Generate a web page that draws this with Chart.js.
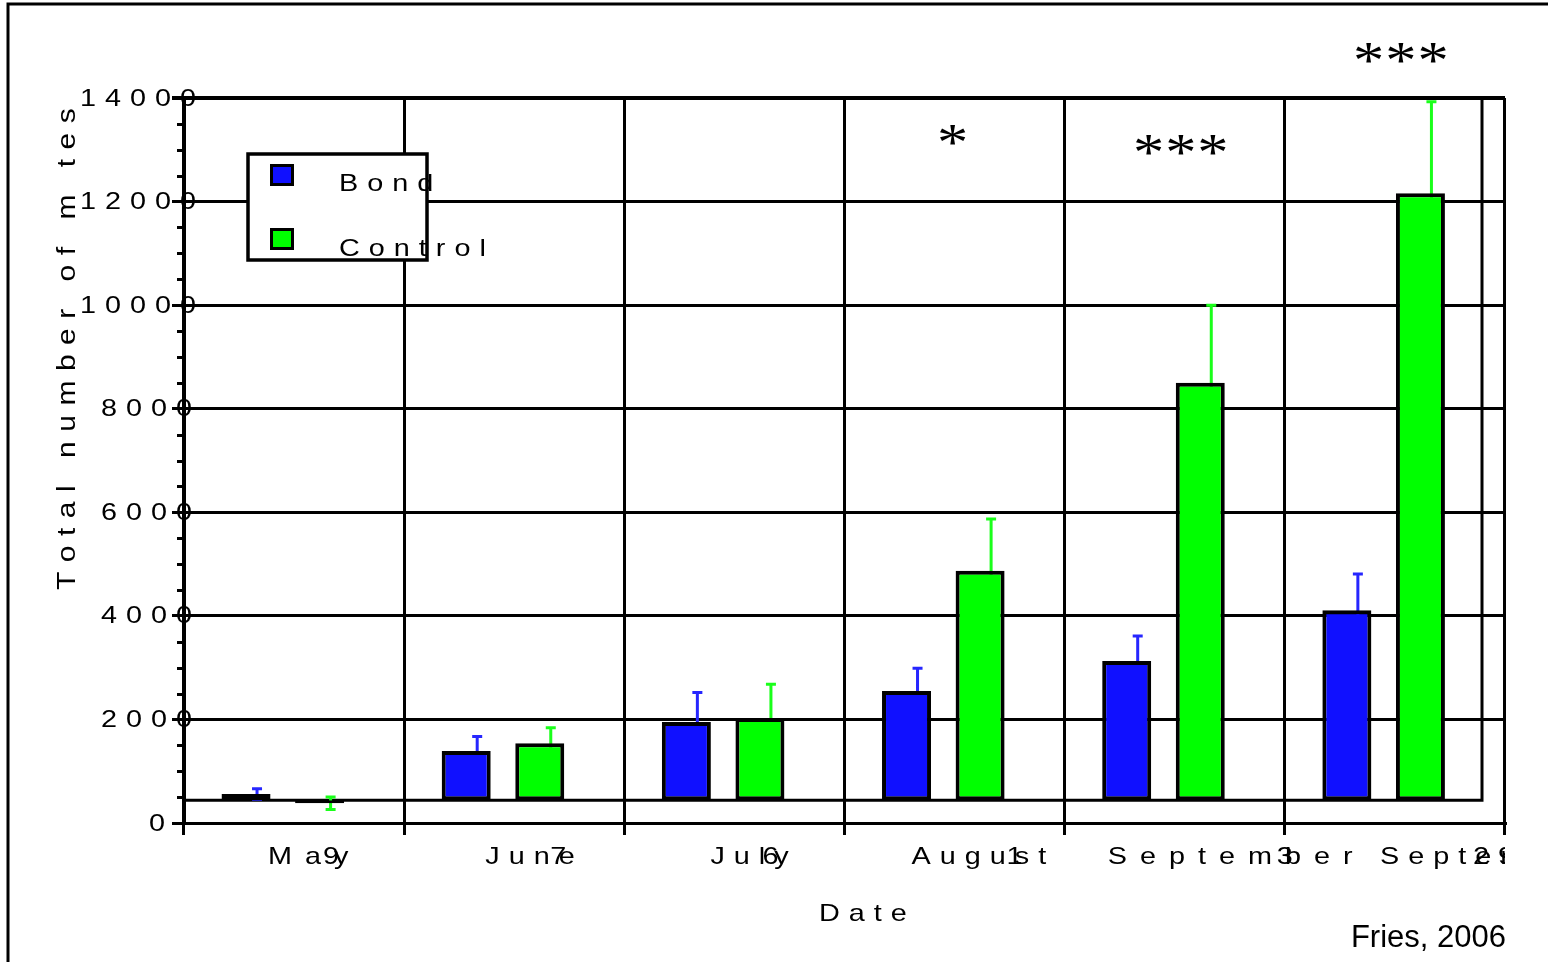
<!DOCTYPE html>
<html>
<head>
<meta charset="utf-8">
<title>Total number of mites</title>
<script src="https://cdn.jsdelivr.net/npm/chart.js@4.4.1/dist/chart.umd.min.js"></script>
<style>
  html, body { margin: 0; padding: 0; background: #fff; }
  canvas { display: block; }
</style>
</head>
<body>
<canvas id="grafik" width="1548" height="962"></canvas>
<script>
// sampling dates
const months = ["May", "June", "July", "August", "September", "September"];
const days = ["9", "7", "6", "1", "3", "29"];

// mean totals and error (upper bars)
const bond = [56, 139, 195, 255, 313, 411];
const bondErr = [10, 28, 57, 44, 48, 70];
const control = [38, 154, 203, 487, 850, 1216];
const controlErr = [12, 30, 65, 100, 150, 177];

// significance marks per date
const signif = ["", "", "", "*", "***", "***"];

const yMax = 1400;
const yStep = 200;
const yMinorStep = 50;
const barBase = 44;

// layout bits for the hand drawn text
const FONT = "Liberation Sans, Arial, sans-serif";
const SX = 1.2;     // old graph text is a bit wide
const labelStart = [-26, -29, -24, -43, -67, -15];
const labelGap = [13, 9, 9, 9, 13, 9];
const dayStart = [55, 65, 52, 95, 169, 93];
const starLevel = [0, 0, 0, 1328, 1309, 1487];
const starShift = [0, 0, 0, -2, 6, 6];
const errShift = 11;

function spaced(ctx, text, x, y, gap) {
    let cx = x;
    for (const ch of text) {
        ctx.save();
        ctx.translate(cx, y);
        ctx.scale(SX, 1);
        ctx.fillText(ch, 0, 0);
        ctx.restore();
        cx += ctx.measureText(ch).width * SX + gap;
    }
    return cx - gap;
}

function spacedWidth(ctx, text, gap) {
    let w = 0;
    for (const ch of text) w += ctx.measureText(ch).width * SX + gap;
    return w - gap;
}

// frame around the figure, inner box, minor ticks, error bars, labels
const decor = {
    id: "decor",
    beforeDraw(chart) {
        const ctx = chart.ctx;
        ctx.save();
        ctx.fillStyle = "#fff";
        ctx.fillRect(0, 0, chart.width, chart.height);
        ctx.strokeStyle = "#000";
        ctx.lineWidth = 3;
        ctx.beginPath();
        ctx.moveTo(8, chart.height);
        ctx.lineTo(8, 4);
        ctx.lineTo(chart.width, 4);
        ctx.stroke();
        ctx.restore();
    },
    beforeDatasetsDraw(chart) {
        const { ctx, chartArea: a, scales: { y } } = chart;
        ctx.save();
        ctx.strokeStyle = "#000";
        ctx.lineWidth = 3;
        // minor ticks
        ctx.beginPath();
        for (let v = yMinorStep; v < yMax; v += yMinorStep) {
            if (v % yStep === 0) continue;
            const py = Math.round(y.getPixelForValue(v)) + 0.5;
            ctx.moveTo(a.left - 7, py);
            ctx.lineTo(a.left, py);
        }
        ctx.stroke();
        // inner box on the bar base
        const by = y.getPixelForValue(barBase);
        ctx.beginPath();
        ctx.moveTo(a.left, by);
        ctx.lineTo(a.right - 23, by);
        ctx.lineTo(a.right - 23, a.top);
        ctx.stroke();

        // error bars, behind the bars
        const errs = [bondErr, controlErr];
        const cols = ["#2626ff", "#1aff1a"];
        chart.data.datasets.forEach((ds, di) => {
            const meta = chart.getDatasetMeta(di);
            ctx.strokeStyle = cols[di];
            ctx.lineWidth = 3;
            ctx.beginPath();
            meta.data.forEach((bar, i) => {
                const v = ds.data[i], e = errs[di][i];
                const x = bar.x + errShift;
                const top = y.getPixelForValue(v + e);
                const bot = y.getPixelForValue(v - e);
                ctx.moveTo(x, top); ctx.lineTo(x, bot);
                ctx.moveTo(x - 5, top); ctx.lineTo(x + 5, top);
                ctx.moveTo(x - 5, bot); ctx.lineTo(x + 5, bot);
            });
            ctx.stroke();
        });
        ctx.restore();
    },
    afterDraw(chart) {
        const { ctx, chartArea: a, scales: { x, y } } = chart;
        ctx.save();
        ctx.fillStyle = "#000";
        ctx.font = "24px " + FONT;
        ctx.textAlign = "left";

        // y tick labels
        ctx.textBaseline = "middle";
        y.ticks.forEach(t => {
            const txt = t.value === 0 ? "0" : t.value + "0";
            const right = t.value === 0 ? 165 : (txt.length > 4 ? 196 : 192);
            const w = spacedWidth(ctx, txt, 9);
            spaced(ctx, txt, right - w, y.getPixelForValue(t.value) + 1, 9);
        });

        // x tick labels, clipped at the plot edge
        ctx.textBaseline = "alphabetic";
        ctx.save();
        ctx.beginPath();
        ctx.rect(0, a.bottom, a.right, chart.height - a.bottom);
        ctx.clip();
        months.forEach((m, i) => {
            const sx = x.getPixelForValue(i) + labelStart[i];
            spaced(ctx, m, sx, 864, labelGap[i]);
            spaced(ctx, days[i], sx + dayStart[i], 864, 9);
        });
        ctx.restore();

        // axis titles
        spaced(ctx, "Date", 819, 921, 9);
        ctx.save();
        ctx.font = "25px " + FONT;
        ctx.translate(75, 590);
        ctx.rotate(-Math.PI / 2);
        spaced(ctx, "Total number of m tes", 0, 0, 9.5);
        ctx.restore();

        // legend
        const lx = 248, ly = 154, lw = 179, lh = 106;
        ctx.fillStyle = "#fff";
        ctx.fillRect(lx, ly, lw, lh);
        ctx.strokeStyle = "#000";
        ctx.lineWidth = 3.5;
        ctx.strokeRect(lx, ly, lw, lh);
        chart.data.datasets.forEach((ds, di) => {
            const sy = di === 0 ? 165 : 229;
            ctx.fillStyle = ds.backgroundColor;
            ctx.fillRect(271, sy, 22, 20);
            ctx.lineWidth = 3;
            ctx.strokeRect(271.5, sy + 0.5, 21, 19);
            ctx.fillStyle = "#000";
            spaced(ctx, ds.label, 339, di === 0 ? 191 : 256, 9);
        });

        // significance stars
        ctx.font = "52px Liberation Serif, Times New Roman, serif";
        signif.forEach((s, i) => {
            if (!s) return;
            const m = ctx.measureText("*");
            const w = spacedWidth(ctx, s, 1);
            const cy = y.getPixelForValue(starLevel[i]);
            const base = cy + (m.actualBoundingBoxAscent - m.actualBoundingBoxDescent) / 2;
            spaced(ctx, s, x.getPixelForValue(i) + starShift[i] - w / 2, base, 1);
        });

        // credit
        ctx.font = "31px " + FONT;
        ctx.textAlign = "right";
        ctx.fillText("Fries, 2006", 1506, 947);
        ctx.restore();
    }
};

new Chart(document.getElementById("grafik"), {
    type: "bar",
    data: {
        labels: months,
        datasets: [{
            label: "Bond",
            data: bond,
            backgroundColor: "#1010ff",
            borderColor: "#000",
            borderWidth: 4,
            borderSkipped: false,
            base: barBase,
            categoryPercentage: 0.873,
            barPercentage: 0.51
        }, {
            label: "Control",
            data: control,
            backgroundColor: "#00ff00",
            borderColor: "#000",
            borderWidth: 4,
            borderSkipped: false,
            base: barBase,
            categoryPercentage: 0.4636,
            barPercentage: 0.96
        }]
    },
    options: {
        responsive: false,
        animation: false,
        events: [],
        layout: { padding: { top: 98, right: 43, left: 0, bottom: 0 } },
        plugins: { legend: { display: false }, tooltip: { enabled: false } },
        scales: {
            x: {
                grid: { color: "#000", lineWidth: 3, offset: true, tickLength: 12 },
                border: { color: "#000", width: 3 },
                ticks: { display: false },
                afterFit: s => { s.height = 139; }
            },
            y: {
                min: 0,
                max: yMax,
                ticks: { stepSize: yStep, display: false },
                grid: {
                    color: "#000",
                    lineWidth: c => (c.tick && c.tick.value === yMax ? 4 : 3),
                    tickLength: 12
                },
                border: { color: "#000", width: 4 },
                afterFit: s => { s.width = 184; }
            }
        }
    },
    plugins: [decor]
});
</script>
</body>
</html>
